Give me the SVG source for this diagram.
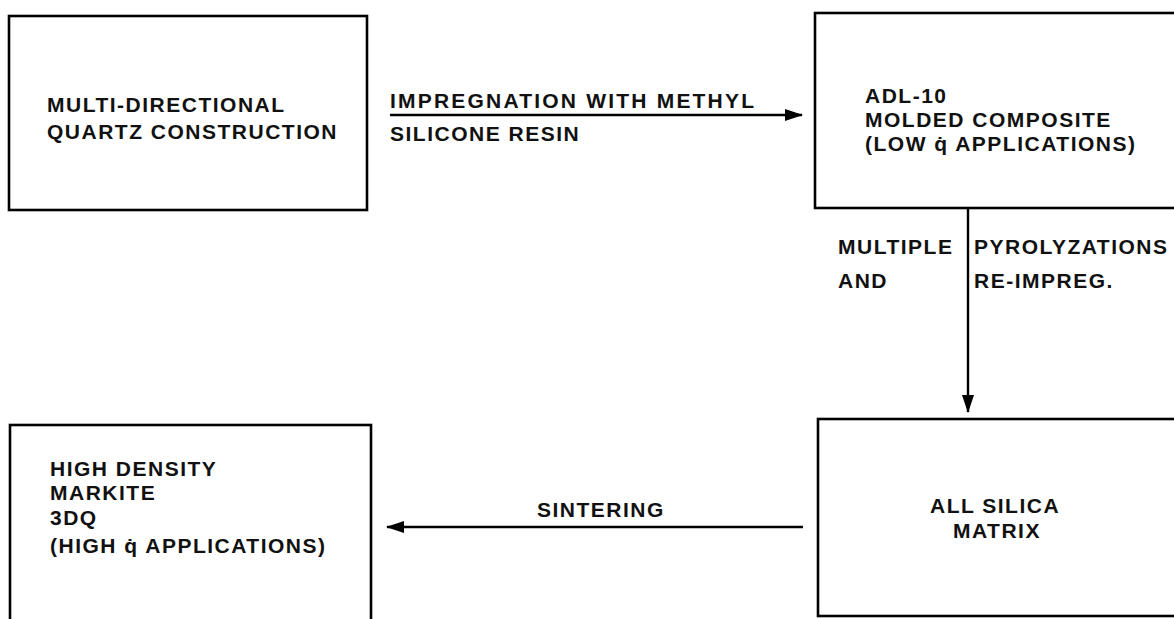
<svg xmlns="http://www.w3.org/2000/svg" width="1174" height="619" viewBox="0 0 1174 619">
<style>
.box{fill:none;stroke:#000;stroke-width:2.6}
.t{font-family:"Liberation Sans",Arial,sans-serif;font-weight:bold;font-size:21px;letter-spacing:1.5px;fill:#111}
.c{stroke:#000;stroke-width:2.4;fill:none}
</style>
<defs>
<marker id="ahb" markerWidth="18" markerHeight="12" refX="17" refY="6" orient="auto" markerUnits="userSpaceOnUse" viewBox="0 0 18 12">
<path d="M0,0 L18,6 L0,12 z" fill="#000"/>
</marker>
</defs>
<g id="n1">
<rect class="box" x="9" y="16" width="358" height="194"/>
<text class="t" x="47" y="112">MULTI-DIRECTIONAL</text>
<text class="t" x="47" y="139">QUARTZ CONSTRUCTION</text>
</g>
<g id="n2">
<rect class="box" x="815" y="13" width="370" height="195"/>
<text class="t" x="865" y="103">ADL-10</text>
<text class="t" x="865" y="127">MOLDED COMPOSITE</text>
<text class="t" x="865" y="151">(LOW q̇ APPLICATIONS)</text>
</g>
<g id="n3">
<rect class="box" x="818" y="419" width="370" height="197"/>
<text class="t" x="930" y="513">ALL SILICA</text>
<text class="t" x="953" y="538">MATRIX</text>
</g>
<g id="n4">
<rect class="box" x="10" y="425" width="361" height="210"/>
<text class="t" x="50" y="476">HIGH DENSITY</text>
<text class="t" x="50" y="500">MARKITE</text>
<text class="t" x="50" y="525">3DQ</text>
<text class="t" x="50" y="553">(HIGH q̇ APPLICATIONS)</text>
</g>
<g id="connectors">
<line class="c" x1="390" y1="115" x2="802" y2="115" marker-end="url(#ahb)"/>
<text class="t" x="390" y="108" style="letter-spacing:2.2px">IMPREGNATION WITH METHYL</text>
<text class="t" x="390" y="141">SILICONE RESIN</text>
<line class="c" x1="968" y1="209" x2="968" y2="412" marker-end="url(#ahb)"/>
<text class="t" x="838" y="254">MULTIPLE</text>
<text class="t" x="838" y="288">AND</text>
<text class="t" x="974" y="254">PYROLYZATIONS</text>
<text class="t" x="974" y="288">RE-IMPREG.</text>
<line class="c" x1="803" y1="527" x2="387" y2="527" marker-end="url(#ahb)"/>
<text class="t" x="537" y="517">SINTERING</text>
</g>
</svg>
